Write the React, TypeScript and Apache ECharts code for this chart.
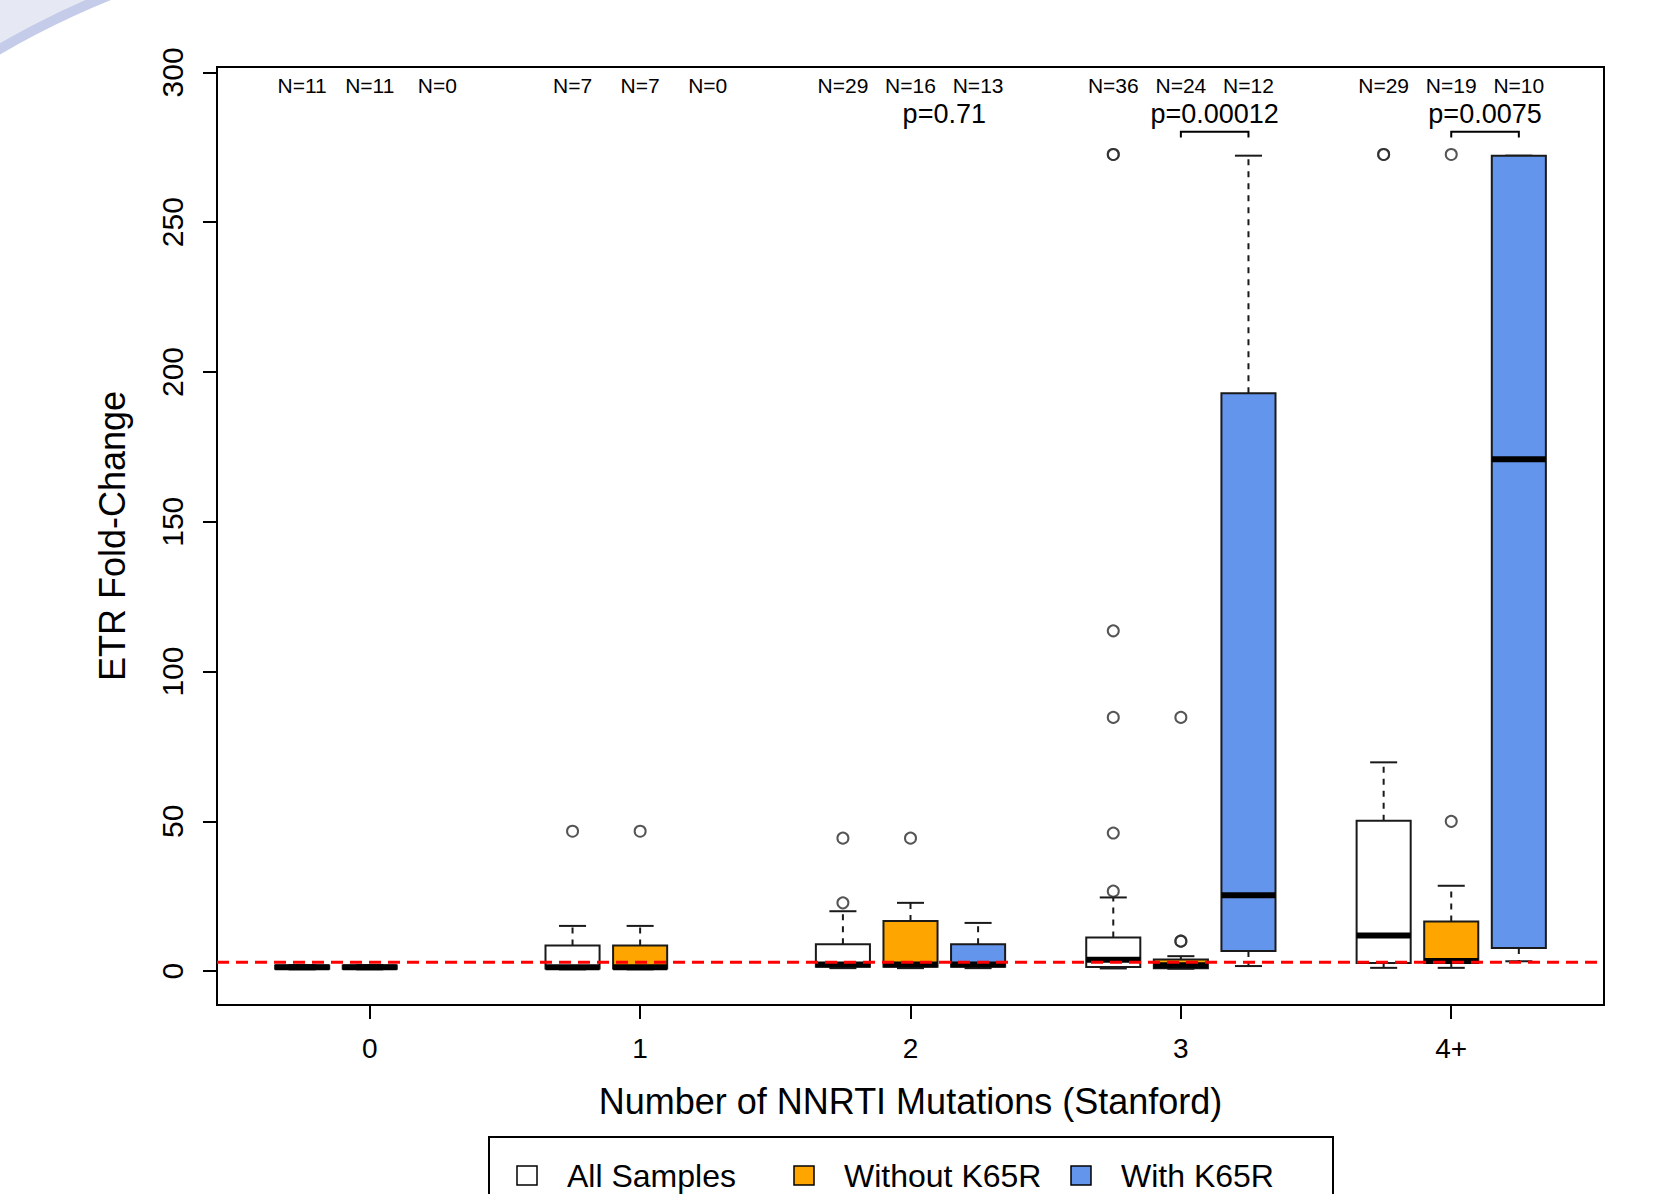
import React, { useEffect, useRef } from "react";
import * as echarts from "echarts";

// ---------- data ----------
const groups = ["0", "1", "2", "3", "4+"];
const seriesNames = ["All Samples", "Without K65R", "With K65R"];
const seriesColors = ["#FFFFFF", "#FFA500", "#6495ED"];

// [low whisker, Q1, median, Q3, high whisker] for each group (null = no samples)
const allBoxes: (number[] | null)[] = [
  [0.6, 0.8, 1.3, 1.9, 2.0],
  [0.6, 0.9, 1.3, 8.6, 15.1],
  [1.0, 1.5, 2.2, 9.0, 20.0],
  [0.9, 1.4, 3.8, 11.2, 24.6],
  [1.1, 2.7, 11.9, 50.2, 69.7],
];
const withoutBoxes: (number[] | null)[] = [
  [0.6, 0.8, 1.3, 1.9, 2.0],
  [0.6, 0.9, 1.3, 8.6, 15.1],
  [1.0, 1.5, 2.2, 16.7, 22.8],
  [0.8, 1.0, 2.0, 3.9, 5.0],
  [1.1, 2.7, 3.4, 16.6, 28.5],
];
const withBoxes: (number[] | null)[] = [
  null,
  null,
  [1.0, 1.5, 2.2, 9.0, 16.1],
  [1.7, 6.7, 25.3, 192.9, 272.2],
  [3.3, 7.7, 170.9, 272.2, 272.2],
];

const allOutliers = [[], [46.7], [22.8, 44.4], [26.7, 46.1, 84.7, 113.6, 272.6, 272.6], [272.6, 272.6]];
const withoutOutliers = [[], [46.7], [44.4], [10.0, 10.0, 84.7], [50.0, 272.6]];
const withOutliers: number[][] = [[], [], [], [], []];

const sampleCounts = [
  [11, 11, 0],
  [7, 7, 0],
  [29, 16, 13],
  [36, 24, 12],
  [29, 19, 10],
];
const pValues = ["", "", "p=0.71", "p=0.00012", "p=0.0075"];
const showBracket = [false, false, false, true, true];
const cutoff = 3;
const yTicks = [0, 50, 100, 150, 200, 250, 300];

// ---------- layout helpers ----------
const FONT = "'Liberation Sans', Arial, sans-serif";
const X_MIN = -0.26;
const X_MAX = 20.26;
const Y_MIN = -11.3;
const Y_MAX = 301.8;
const pos = (g: number, k: number) => g * 4 + k + 1;
const groupTicks = groups.map((_, g) => pos(g, 1));

const boxSets = [allBoxes, withoutBoxes, withBoxes];
const outlierSets = [allOutliers, withoutOutliers, withOutliers];

function boxRender(fill: string) {
  return (params: any, api: any) => {
    const x = api.value(0);
    const low = api.coord([x, api.value(1)]);
    const q1 = api.coord([x, api.value(2)]);
    const med = api.coord([x, api.value(3)]);
    const q3 = api.coord([x, api.value(4)]);
    const high = api.coord([x, api.value(5)]);
    const w = api.size([0.8, 0])[0];
    const hw = w / 2;
    const cw = w / 4;
    const cx = low[0];
    const stroke = "#1a1a1a";
    return {
      type: "group",
      children: [
        { type: "line", shape: { x1: cx, y1: q3[1], x2: cx, y2: high[1] }, style: { stroke, lineWidth: 2, lineDash: [6, 6] } },
        { type: "line", shape: { x1: cx, y1: q1[1], x2: cx, y2: low[1] }, style: { stroke, lineWidth: 2, lineDash: [6, 6] } },
        { type: "line", shape: { x1: cx - cw, y1: high[1], x2: cx + cw, y2: high[1] }, style: { stroke, lineWidth: 2 } },
        { type: "line", shape: { x1: cx - cw, y1: low[1], x2: cx + cw, y2: low[1] }, style: { stroke, lineWidth: 2 } },
        {
          type: "rect",
          shape: { x: cx - hw, y: q3[1], width: w, height: q1[1] - q3[1] },
          style: { fill, stroke, lineWidth: 2 },
        },
        { type: "line", shape: { x1: cx - hw, y1: med[1], x2: cx + hw, y2: med[1] }, style: { stroke: "#000", lineWidth: 6 } },
      ],
    };
  };
}

export default function App() {
  const ref = useRef<HTMLDivElement>(null);

  useEffect(() => {
    document.body.style.margin = "0";
    if (!ref.current) return;
    const chart = echarts.init(ref.current, undefined, { renderer: "svg" });

    const boxSeries = seriesNames.map((name, k) => ({
      name,
      type: "custom",
      renderItem: boxRender(seriesColors[k]),
      encode: { x: 0, y: [1, 2, 3, 4, 5] },
      data: boxSets[k]
        .map((b, g) => (b ? [pos(g, k), ...b] : null))
        .filter((d) => d !== null),
      z: 2,
    }));

    const outlierSeries = seriesNames.map((name, k) => ({
      name: name + " outliers",
      type: "scatter",
      symbol: "circle",
      symbolSize: 11,
      itemStyle: { color: "rgba(0,0,0,0)", borderColor: "#2a2a2a", borderWidth: 2 },
      data: outlierSets[k].flatMap((vals, g) => vals.map((v) => [pos(g, k), v])),
      z: 3,
    }));

    const nLabelData: [number, number][] = [];
    const nLabelText: string[] = [];
    sampleCounts.forEach((row, g) =>
      row.forEach((n, k) => {
        nLabelData.push([pos(g, k), 295.5]);
        nLabelText.push("N=" + n);
      })
    );

    const pData: [number, number][] = [];
    const pText: string[] = [];
    pValues.forEach((p, g) => {
      if (p) {
        pData.push([pos(g, 1) + 0.5, 286]);
        pText.push(p);
      }
    });

    const bracketData: [number, number][] = [];
    showBracket.forEach((b, g) => {
      if (b) bracketData.push([pos(g, 1), pos(g, 2)]);
    });

    const option: any = {
      animation: false,
      backgroundColor: "#ffffff",
      grid: {
        left: 217,
        top: 67,
        width: 1387,
        height: 938,
        show: true,
        borderColor: "#000",
        borderWidth: 2,
        backgroundColor: "transparent",
      },
      xAxis: {
        type: "value",
        min: X_MIN,
        max: X_MAX,
        splitLine: { show: false },
        axisLine: { show: false, onZero: false },
        axisTick: {
          show: true,
          customValues: groupTicks,
          length: 14,
          lineStyle: { color: "#000", width: 2 },
        },
        axisLabel: {
          customValues: groupTicks,
          formatter: (v: number) => groups[Math.round((v - 2) / 4)] ?? "",
          fontSize: 28,
          color: "#000",
          fontFamily: FONT,
          margin: 29,
        },
        name: "Number of NNRTI Mutations (Stanford)",
        nameLocation: "middle",
        nameGap: 78,
        nameTextStyle: { fontSize: 36, color: "#000", fontFamily: FONT },
      },
      yAxis: {
        type: "value",
        min: Y_MIN,
        max: Y_MAX,
        splitLine: { show: false },
        axisLine: { show: false, onZero: false },
        axisTick: {
          show: true,
          customValues: yTicks,
          length: 14,
          lineStyle: { color: "#000", width: 2 },
        },
        axisLabel: {
          customValues: yTicks,
          rotate: 90,
          fontSize: 30,
          color: "#000",
          fontFamily: FONT,
          margin: 30,
        },
        name: "ETR Fold-Change",
        nameLocation: "middle",
        nameRotate: 90,
        nameGap: 87,
        nameTextStyle: { fontSize: 36, color: "#000", fontFamily: FONT },
      },
      series: [
        ...boxSeries,
        ...outlierSeries,
        {
          name: "Cutoff",
          type: "line",
          data: [
            [X_MIN, cutoff],
            [X_MAX, cutoff],
          ],
          symbol: "none",
          lineStyle: { color: "#ff0000", width: 3, type: [12, 7] },
          z: 10,
        },
        {
          name: "N labels",
          type: "custom",
          data: nLabelData,
          renderItem: (params: any, api: any) => {
            const p = api.coord([api.value(0), api.value(1)]);
            return {
              type: "text",
              x: p[0],
              y: p[1],
              style: {
                text: nLabelText[params.dataIndex],
                fontSize: 21,
                fontFamily: FONT,
                fill: "#000",
                align: "center",
                verticalAlign: "middle",
              },
            };
          },
          z: 5,
        },
        {
          name: "p values",
          type: "custom",
          data: pData,
          renderItem: (params: any, api: any) => {
            const p = api.coord([api.value(0), api.value(1)]);
            return {
              type: "text",
              x: p[0],
              y: p[1],
              style: {
                text: pText[params.dataIndex],
                fontSize: 27,
                fontFamily: FONT,
                fill: "#000",
                align: "center",
                verticalAlign: "middle",
              },
            };
          },
          z: 5,
        },
        {
          name: "Brackets",
          type: "custom",
          data: bracketData,
          renderItem: (params: any, api: any) => {
            const a = api.coord([api.value(0), 278.3]);
            const b = api.coord([api.value(0), 280.2]);
            const c = api.coord([api.value(1), 280.2]);
            const d = api.coord([api.value(1), 278.3]);
            return {
              type: "polyline",
              shape: { points: [a, b, c, d] },
              style: { stroke: "#000", lineWidth: 2, fill: "none" },
            };
          },
          z: 5,
        },
      ],
      graphic: [
        {
          type: "sector",
          silent: true,
          shape: { cx: 430, cy: 790, r0: 862, r: 1600, startAngle: (-140 * Math.PI) / 180, endAngle: (-95 * Math.PI) / 180 },
          style: { fill: "#e6e9f4" },
          z: -10,
        },
        {
          type: "sector",
          silent: true,
          shape: { cx: 430, cy: 790, r0: 852, r: 862, startAngle: (-140 * Math.PI) / 180, endAngle: (-95 * Math.PI) / 180 },
          style: { fill: "#c4cce9" },
          z: -10,
        },
        {
          type: "rect",
          shape: { x: 489, y: 1137, width: 844, height: 100 },
          style: { fill: "#fff", stroke: "#000", lineWidth: 2 },
        },
        ...seriesNames.flatMap((name, k) => {
          const sx = [517, 794, 1071][k];
          const tx = [567, 844, 1121][k];
          return [
            {
              type: "rect",
              shape: { x: sx, y: 1166, width: 20, height: 19 },
              style: { fill: seriesColors[k], stroke: "#000", lineWidth: 1.5 },
            },
            {
              type: "text",
              x: tx,
              y: 1176,
              style: { text: name, fontSize: 32, fontFamily: FONT, fill: "#000", verticalAlign: "middle", align: "left" },
            },
          ];
        }),
      ],
    };

    chart.setOption(option);
    return () => chart.dispose();
  }, []);

  return <div ref={ref} style={{ width: 1669, height: 1194 }} />;
}
